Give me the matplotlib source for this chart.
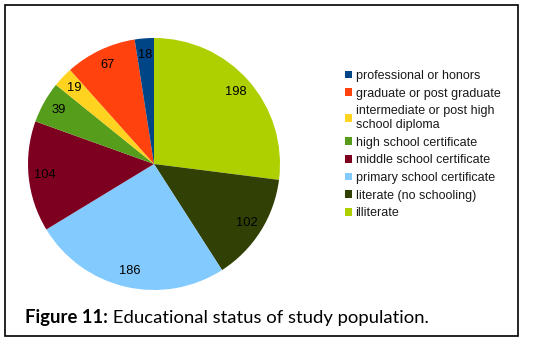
import matplotlib.pyplot as plt
from matplotlib.patches import Patch, Rectangle

# Education categories, clockwise from 12 o'clock
categories = ["illiterate", "literate (no schooling)", "primary school certificate",
              "middle school certificate", "high school certificate",
              "intermediate or post high\nschool diploma", "graduate or post graduate",
              "professional or honors"]
counts = [198, 102, 186, 104, 39, 19, 67, 18]
colors = ["#AECF00", "#314004", "#83CAFF", "#7E0021", "#579D1C",
          "#FFD320", "#FF420E", "#004586"]

W, H = 555, 344
fig = plt.figure(figsize=(W / 100, H / 100), dpi=100)
fig.patch.set_facecolor("white")

# outer frame
fig.add_artist(Rectangle((5 / W, 1 - 336 / H), 513 / W, 331 / H,
                         transform=fig.transFigure, fill=False,
                         edgecolor="black", linewidth=1.2))

# pie axes, centre (154, 164) px, radius 126 px
cx, cy, r = 154, 164, 126
ax = fig.add_axes([(cx - r) / W, (H - cy - r) / H, 2 * r / W, 2 * r / H])
wedges, texts = ax.pie(counts, colors=colors, startangle=90, counterclock=False,
                       labels=[str(c) for c in counts], labeldistance=0.87,
                       radius=1.0, wedgeprops=dict(linewidth=0),
                       textprops=dict(fontsize=9.3, family="Liberation Sans",
                                      color="black"))
for t in texts:
    t.set_ha("center")
    t.set_va("center")
ax.set_xlim(-1, 1)
ax.set_ylim(-1, 1)
ax.set_aspect("equal")
ax.axis("off")

# legend lists the slices in reverse order
handles = [Patch(facecolor=c, edgecolor="none") for c in colors][::-1]
fig.legend(handles, categories[::-1], loc="upper left",
           bbox_to_anchor=(345 / W, 1 - 70 / H), frameon=False,
           prop=dict(family="Liberation Sans", size=9),
           handlelength=0.55, handleheight=0.55, handletextpad=0.3,
           labelspacing=0.45, borderaxespad=0, borderpad=0,
           labelcolor="#1a1a1a")

# caption: bold label followed by regular text
cap = fig.text(25 / W, 1 - 326 / H, "Figure 11:", fontsize=13.3, fontweight="bold",
               family="Lato", color="black", va="bottom", ha="left")
ax.annotate(" Educational status of study population.", xy=(1, 0), xycoords=cap,
            fontsize=13.3, family="Lato", color="black", va="bottom", ha="left",
            annotation_clip=False)

fig.savefig("out.png", dpi=100, facecolor="white")
